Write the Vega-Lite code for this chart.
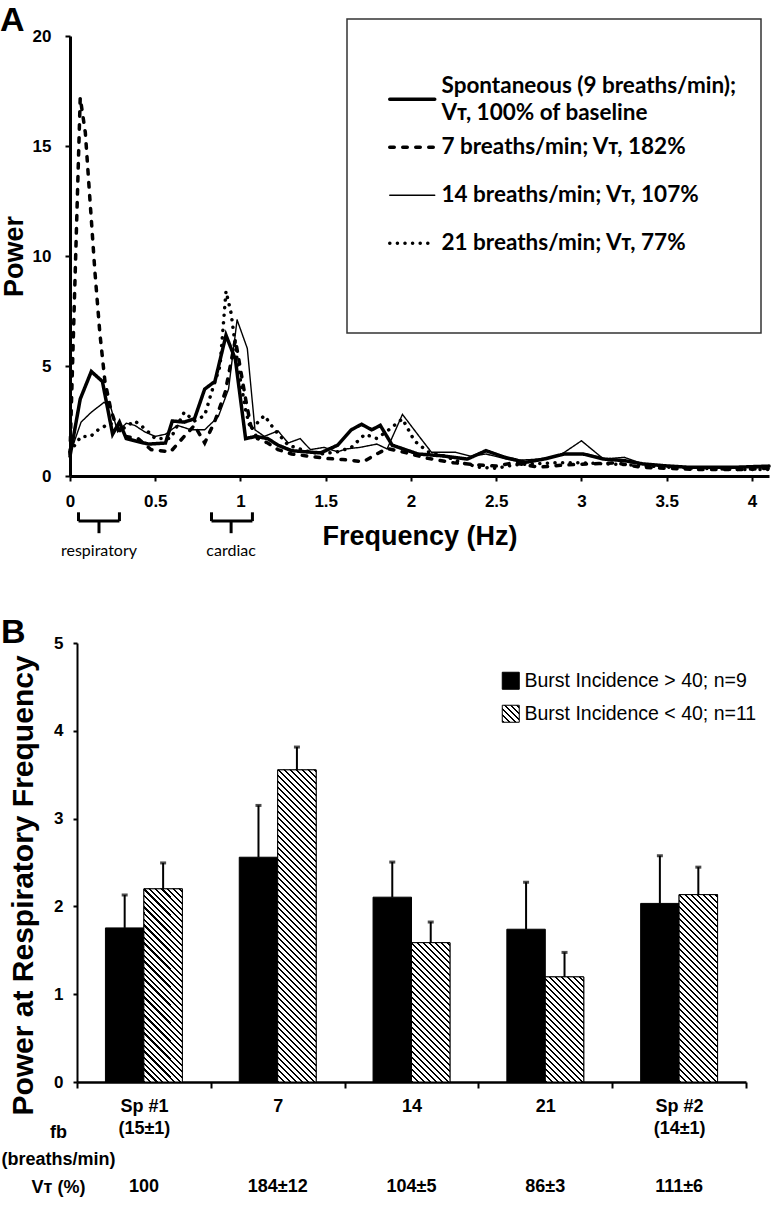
{
"$schema": "https://vega.github.io/schema/vega-lite/v6.json",
"background": "white",
"padding": {"top": 4, "left": 0, "right": 0, "bottom": 0},
"spacing": 167,
"bounds": "flush",
"resolve": {"scale": {"fill": "independent", "strokeDash": "independent"}, "legend": {"fill": "independent", "strokeDash": "independent"}},
"params": [{"name": "hatch", "value": [
{"offset":0,"color":"#000"},{"offset":0.00583,"color":"#000"},{"offset":0.00583,"color":"#fff"},{"offset":0.01667,"color":"#fff"},
{"offset":0.01667,"color":"#000"},{"offset":0.0225,"color":"#000"},{"offset":0.0225,"color":"#fff"},{"offset":0.03333,"color":"#fff"},
{"offset":0.03333,"color":"#000"},{"offset":0.03917,"color":"#000"},{"offset":0.03917,"color":"#fff"},{"offset":0.05,"color":"#fff"},
{"offset":0.05,"color":"#000"},{"offset":0.05583,"color":"#000"},{"offset":0.05583,"color":"#fff"},{"offset":0.06667,"color":"#fff"},
{"offset":0.06667,"color":"#000"},{"offset":0.0725,"color":"#000"},{"offset":0.0725,"color":"#fff"},{"offset":0.08333,"color":"#fff"},
{"offset":0.08333,"color":"#000"},{"offset":0.08917,"color":"#000"},{"offset":0.08917,"color":"#fff"},{"offset":0.1,"color":"#fff"},
{"offset":0.1,"color":"#000"},{"offset":0.10583,"color":"#000"},{"offset":0.10583,"color":"#fff"},{"offset":0.11667,"color":"#fff"},
{"offset":0.11667,"color":"#000"},{"offset":0.1225,"color":"#000"},{"offset":0.1225,"color":"#fff"},{"offset":0.13333,"color":"#fff"},
{"offset":0.13333,"color":"#000"},{"offset":0.13917,"color":"#000"},{"offset":0.13917,"color":"#fff"},{"offset":0.15,"color":"#fff"},
{"offset":0.15,"color":"#000"},{"offset":0.15583,"color":"#000"},{"offset":0.15583,"color":"#fff"},{"offset":0.16667,"color":"#fff"},
{"offset":0.16667,"color":"#000"},{"offset":0.1725,"color":"#000"},{"offset":0.1725,"color":"#fff"},{"offset":0.18333,"color":"#fff"},
{"offset":0.18333,"color":"#000"},{"offset":0.18917,"color":"#000"},{"offset":0.18917,"color":"#fff"},{"offset":0.2,"color":"#fff"},
{"offset":0.2,"color":"#000"},{"offset":0.20583,"color":"#000"},{"offset":0.20583,"color":"#fff"},{"offset":0.21667,"color":"#fff"},
{"offset":0.21667,"color":"#000"},{"offset":0.2225,"color":"#000"},{"offset":0.2225,"color":"#fff"},{"offset":0.23333,"color":"#fff"},
{"offset":0.23333,"color":"#000"},{"offset":0.23917,"color":"#000"},{"offset":0.23917,"color":"#fff"},{"offset":0.25,"color":"#fff"},
{"offset":0.25,"color":"#000"},{"offset":0.25583,"color":"#000"},{"offset":0.25583,"color":"#fff"},{"offset":0.26667,"color":"#fff"},
{"offset":0.26667,"color":"#000"},{"offset":0.2725,"color":"#000"},{"offset":0.2725,"color":"#fff"},{"offset":0.28333,"color":"#fff"},
{"offset":0.28333,"color":"#000"},{"offset":0.28917,"color":"#000"},{"offset":0.28917,"color":"#fff"},{"offset":0.3,"color":"#fff"},
{"offset":0.3,"color":"#000"},{"offset":0.30583,"color":"#000"},{"offset":0.30583,"color":"#fff"},{"offset":0.31667,"color":"#fff"},
{"offset":0.31667,"color":"#000"},{"offset":0.3225,"color":"#000"},{"offset":0.3225,"color":"#fff"},{"offset":0.33333,"color":"#fff"},
{"offset":0.33333,"color":"#000"},{"offset":0.33917,"color":"#000"},{"offset":0.33917,"color":"#fff"},{"offset":0.35,"color":"#fff"},
{"offset":0.35,"color":"#000"},{"offset":0.35583,"color":"#000"},{"offset":0.35583,"color":"#fff"},{"offset":0.36667,"color":"#fff"},
{"offset":0.36667,"color":"#000"},{"offset":0.3725,"color":"#000"},{"offset":0.3725,"color":"#fff"},{"offset":0.38333,"color":"#fff"},
{"offset":0.38333,"color":"#000"},{"offset":0.38917,"color":"#000"},{"offset":0.38917,"color":"#fff"},{"offset":0.4,"color":"#fff"},
{"offset":0.4,"color":"#000"},{"offset":0.40583,"color":"#000"},{"offset":0.40583,"color":"#fff"},{"offset":0.41667,"color":"#fff"},
{"offset":0.41667,"color":"#000"},{"offset":0.4225,"color":"#000"},{"offset":0.4225,"color":"#fff"},{"offset":0.43333,"color":"#fff"},
{"offset":0.43333,"color":"#000"},{"offset":0.43917,"color":"#000"},{"offset":0.43917,"color":"#fff"},{"offset":0.45,"color":"#fff"},
{"offset":0.45,"color":"#000"},{"offset":0.45583,"color":"#000"},{"offset":0.45583,"color":"#fff"},{"offset":0.46667,"color":"#fff"},
{"offset":0.46667,"color":"#000"},{"offset":0.4725,"color":"#000"},{"offset":0.4725,"color":"#fff"},{"offset":0.48333,"color":"#fff"},
{"offset":0.48333,"color":"#000"},{"offset":0.48917,"color":"#000"},{"offset":0.48917,"color":"#fff"},{"offset":0.5,"color":"#fff"},
{"offset":0.5,"color":"#000"},{"offset":0.50583,"color":"#000"},{"offset":0.50583,"color":"#fff"},{"offset":0.51667,"color":"#fff"},
{"offset":0.51667,"color":"#000"},{"offset":0.5225,"color":"#000"},{"offset":0.5225,"color":"#fff"},{"offset":0.53333,"color":"#fff"},
{"offset":0.53333,"color":"#000"},{"offset":0.53917,"color":"#000"},{"offset":0.53917,"color":"#fff"},{"offset":0.55,"color":"#fff"},
{"offset":0.55,"color":"#000"},{"offset":0.55583,"color":"#000"},{"offset":0.55583,"color":"#fff"},{"offset":0.56667,"color":"#fff"},
{"offset":0.56667,"color":"#000"},{"offset":0.5725,"color":"#000"},{"offset":0.5725,"color":"#fff"},{"offset":0.58333,"color":"#fff"},
{"offset":0.58333,"color":"#000"},{"offset":0.58917,"color":"#000"},{"offset":0.58917,"color":"#fff"},{"offset":0.6,"color":"#fff"},
{"offset":0.6,"color":"#000"},{"offset":0.60583,"color":"#000"},{"offset":0.60583,"color":"#fff"},{"offset":0.61667,"color":"#fff"},
{"offset":0.61667,"color":"#000"},{"offset":0.6225,"color":"#000"},{"offset":0.6225,"color":"#fff"},{"offset":0.63333,"color":"#fff"},
{"offset":0.63333,"color":"#000"},{"offset":0.63917,"color":"#000"},{"offset":0.63917,"color":"#fff"},{"offset":0.65,"color":"#fff"},
{"offset":0.65,"color":"#000"},{"offset":0.65583,"color":"#000"},{"offset":0.65583,"color":"#fff"},{"offset":0.66667,"color":"#fff"},
{"offset":0.66667,"color":"#000"},{"offset":0.6725,"color":"#000"},{"offset":0.6725,"color":"#fff"},{"offset":0.68333,"color":"#fff"},
{"offset":0.68333,"color":"#000"},{"offset":0.68917,"color":"#000"},{"offset":0.68917,"color":"#fff"},{"offset":0.7,"color":"#fff"},
{"offset":0.7,"color":"#000"},{"offset":0.70583,"color":"#000"},{"offset":0.70583,"color":"#fff"},{"offset":0.71667,"color":"#fff"},
{"offset":0.71667,"color":"#000"},{"offset":0.7225,"color":"#000"},{"offset":0.7225,"color":"#fff"},{"offset":0.73333,"color":"#fff"},
{"offset":0.73333,"color":"#000"},{"offset":0.73917,"color":"#000"},{"offset":0.73917,"color":"#fff"},{"offset":0.75,"color":"#fff"},
{"offset":0.75,"color":"#000"},{"offset":0.75583,"color":"#000"},{"offset":0.75583,"color":"#fff"},{"offset":0.76667,"color":"#fff"},
{"offset":0.76667,"color":"#000"},{"offset":0.7725,"color":"#000"},{"offset":0.7725,"color":"#fff"},{"offset":0.78333,"color":"#fff"},
{"offset":0.78333,"color":"#000"},{"offset":0.78917,"color":"#000"},{"offset":0.78917,"color":"#fff"},{"offset":0.8,"color":"#fff"},
{"offset":0.8,"color":"#000"},{"offset":0.80583,"color":"#000"},{"offset":0.80583,"color":"#fff"},{"offset":0.81667,"color":"#fff"},
{"offset":0.81667,"color":"#000"},{"offset":0.8225,"color":"#000"},{"offset":0.8225,"color":"#fff"},{"offset":0.83333,"color":"#fff"},
{"offset":0.83333,"color":"#000"},{"offset":0.83917,"color":"#000"},{"offset":0.83917,"color":"#fff"},{"offset":0.85,"color":"#fff"},
{"offset":0.85,"color":"#000"},{"offset":0.85583,"color":"#000"},{"offset":0.85583,"color":"#fff"},{"offset":0.86667,"color":"#fff"},
{"offset":0.86667,"color":"#000"},{"offset":0.8725,"color":"#000"},{"offset":0.8725,"color":"#fff"},{"offset":0.88333,"color":"#fff"},
{"offset":0.88333,"color":"#000"},{"offset":0.88917,"color":"#000"},{"offset":0.88917,"color":"#fff"},{"offset":0.9,"color":"#fff"},
{"offset":0.9,"color":"#000"},{"offset":0.90583,"color":"#000"},{"offset":0.90583,"color":"#fff"},{"offset":0.91667,"color":"#fff"},
{"offset":0.91667,"color":"#000"},{"offset":0.9225,"color":"#000"},{"offset":0.9225,"color":"#fff"},{"offset":0.93333,"color":"#fff"},
{"offset":0.93333,"color":"#000"},{"offset":0.93917,"color":"#000"},{"offset":0.93917,"color":"#fff"},{"offset":0.95,"color":"#fff"},
{"offset":0.95,"color":"#000"},{"offset":0.95583,"color":"#000"},{"offset":0.95583,"color":"#fff"},{"offset":0.96667,"color":"#fff"},
{"offset":0.96667,"color":"#000"},{"offset":0.9725,"color":"#000"},{"offset":0.9725,"color":"#fff"},{"offset":0.98333,"color":"#fff"},
{"offset":0.98333,"color":"#000"},{"offset":0.98917,"color":"#000"},{"offset":0.98917,"color":"#fff"},{"offset":1,"color":"#fff"}
]}],
"datasets": {
"spectra": [
{"series":"Spontaneous","freq":0,"power":0.9},{"series":"Spontaneous","freq":0.06,"power":3.5},{"series":"Spontaneous","freq":0.125,"power":4.75},{"series":"Spontaneous","freq":0.19,"power":4.3},{"series":"Spontaneous","freq":0.25,"power":1.9},{"series":"Spontaneous","freq":0.29,"power":2.45},{"series":"Spontaneous","freq":0.33,"power":1.7},{"series":"Spontaneous","freq":0.38,"power":1.6},{"series":"Spontaneous","freq":0.46,"power":1.45},{"series":"Spontaneous","freq":0.56,"power":1.5},{"series":"Spontaneous","freq":0.6,"power":2.5},{"series":"Spontaneous","freq":0.67,"power":2.45},{"series":"Spontaneous","freq":0.73,"power":2.6},{"series":"Spontaneous","freq":0.79,"power":3.95},{"series":"Spontaneous","freq":0.85,"power":4.3},{"series":"Spontaneous","freq":0.915,"power":6.4},{"series":"Spontaneous","freq":0.97,"power":5.3},{"series":"Spontaneous","freq":1.03,"power":1.7},{"series":"Spontaneous","freq":1.09,"power":1.8},{"series":"Spontaneous","freq":1.16,"power":1.7},{"series":"Spontaneous","freq":1.22,"power":1.4},{"series":"Spontaneous","freq":1.3,"power":1.15},{"series":"Spontaneous","freq":1.38,"power":1.1},{"series":"Spontaneous","freq":1.47,"power":1.05},{"series":"Spontaneous","freq":1.57,"power":1.4},{"series":"Spontaneous","freq":1.65,"power":2.1},{"series":"Spontaneous","freq":1.71,"power":2.35},{"series":"Spontaneous","freq":1.77,"power":2.1},{"series":"Spontaneous","freq":1.82,"power":2.3},{"series":"Spontaneous","freq":1.89,"power":1.4},{"series":"Spontaneous","freq":2.04,"power":1.0},{"series":"Spontaneous","freq":2.18,"power":0.92},{"series":"Spontaneous","freq":2.33,"power":0.77},{"series":"Spontaneous","freq":2.44,"power":1.15},{"series":"Spontaneous","freq":2.55,"power":0.85},{"series":"Spontaneous","freq":2.67,"power":0.62},{"series":"Spontaneous","freq":2.78,"power":0.77},{"series":"Spontaneous","freq":2.9,"power":1.0},{"series":"Spontaneous","freq":3.01,"power":1.0},{"series":"Spontaneous","freq":3.13,"power":0.77},{"series":"Spontaneous","freq":3.25,"power":0.7},{"series":"Spontaneous","freq":3.36,"power":0.55},{"series":"Spontaneous","freq":3.48,"power":0.47},{"series":"Spontaneous","freq":3.62,"power":0.4},{"series":"Spontaneous","freq":3.77,"power":0.4},{"series":"Spontaneous","freq":3.91,"power":0.4},{"series":"Spontaneous","freq":4.1,"power":0.45},
{"series":"7 breaths/min","freq":0,"power":1.0},{"series":"7 breaths/min","freq":0.06,"power":17.2},{"series":"7 breaths/min","freq":0.09,"power":15.6},{"series":"7 breaths/min","freq":0.146,"power":9.3},{"series":"7 breaths/min","freq":0.175,"power":6.5},{"series":"7 breaths/min","freq":0.205,"power":4.3},{"series":"7 breaths/min","freq":0.24,"power":3.0},{"series":"7 breaths/min","freq":0.27,"power":2.3},{"series":"7 breaths/min","freq":0.32,"power":1.8},{"series":"7 breaths/min","freq":0.4,"power":1.7},{"series":"7 breaths/min","freq":0.475,"power":1.2},{"series":"7 breaths/min","freq":0.59,"power":1.1},{"series":"7 breaths/min","freq":0.67,"power":1.8},{"series":"7 breaths/min","freq":0.73,"power":2.3},{"series":"7 breaths/min","freq":0.79,"power":1.5},{"series":"7 breaths/min","freq":0.85,"power":2.5},{"series":"7 breaths/min","freq":0.91,"power":3.8},{"series":"7 breaths/min","freq":0.94,"power":5.0},{"series":"7 breaths/min","freq":0.97,"power":6.2},{"series":"7 breaths/min","freq":1.03,"power":3.5},{"series":"7 breaths/min","freq":1.06,"power":2.3},{"series":"7 breaths/min","freq":1.1,"power":1.7},{"series":"7 breaths/min","freq":1.16,"power":1.5},{"series":"7 breaths/min","freq":1.22,"power":1.2},{"series":"7 breaths/min","freq":1.3,"power":1.0},{"series":"7 breaths/min","freq":1.4,"power":0.9},{"series":"7 breaths/min","freq":1.5,"power":0.8},{"series":"7 breaths/min","freq":1.6,"power":0.75},{"series":"7 breaths/min","freq":1.72,"power":0.65},{"series":"7 breaths/min","freq":1.8,"power":1.0},{"series":"7 breaths/min","freq":1.86,"power":1.25},{"series":"7 breaths/min","freq":1.92,"power":1.15},{"series":"7 breaths/min","freq":2.0,"power":1.0},{"series":"7 breaths/min","freq":2.1,"power":0.8},{"series":"7 breaths/min","freq":2.25,"power":0.6},{"series":"7 breaths/min","freq":2.4,"power":0.5},{"series":"7 breaths/min","freq":2.5,"power":0.45},{"series":"7 breaths/min","freq":2.6,"power":0.6},{"series":"7 breaths/min","freq":2.75,"power":0.4},{"series":"7 breaths/min","freq":2.9,"power":0.5},{"series":"7 breaths/min","freq":3.05,"power":0.55},{"series":"7 breaths/min","freq":3.2,"power":0.6},{"series":"7 breaths/min","freq":3.35,"power":0.4},{"series":"7 breaths/min","freq":3.5,"power":0.35},{"series":"7 breaths/min","freq":3.65,"power":0.3},{"series":"7 breaths/min","freq":3.8,"power":0.3},{"series":"7 breaths/min","freq":3.95,"power":0.3},{"series":"7 breaths/min","freq":4.1,"power":0.35},
{"series":"14 breaths/min","freq":0,"power":1.0},{"series":"14 breaths/min","freq":0.065,"power":2.45},{"series":"14 breaths/min","freq":0.125,"power":2.9},{"series":"14 breaths/min","freq":0.2,"power":3.35},{"series":"14 breaths/min","freq":0.24,"power":3.1},{"series":"14 breaths/min","freq":0.28,"power":2.0},{"series":"14 breaths/min","freq":0.33,"power":2.4},{"series":"14 breaths/min","freq":0.38,"power":2.3},{"series":"14 breaths/min","freq":0.44,"power":2.0},{"series":"14 breaths/min","freq":0.5,"power":1.8},{"series":"14 breaths/min","freq":0.56,"power":1.9},{"series":"14 breaths/min","freq":0.63,"power":2.3},{"series":"14 breaths/min","freq":0.71,"power":2.1},{"series":"14 breaths/min","freq":0.79,"power":2.1},{"series":"14 breaths/min","freq":0.87,"power":2.7},{"series":"14 breaths/min","freq":0.93,"power":3.95},{"series":"14 breaths/min","freq":0.98,"power":7.1},{"series":"14 breaths/min","freq":1.04,"power":5.8},{"series":"14 breaths/min","freq":1.085,"power":2.1},{"series":"14 breaths/min","freq":1.14,"power":1.8},{"series":"14 breaths/min","freq":1.22,"power":2.05},{"series":"14 breaths/min","freq":1.28,"power":1.5},{"series":"14 breaths/min","freq":1.35,"power":1.7},{"series":"14 breaths/min","freq":1.41,"power":1.2},{"series":"14 breaths/min","freq":1.49,"power":1.3},{"series":"14 breaths/min","freq":1.57,"power":1.1},{"series":"14 breaths/min","freq":1.62,"power":1.23},{"series":"14 breaths/min","freq":1.7,"power":1.3},{"series":"14 breaths/min","freq":1.8,"power":1.45},{"series":"14 breaths/min","freq":1.86,"power":1.23},{"series":"14 breaths/min","freq":1.95,"power":2.8},{"series":"14 breaths/min","freq":2.06,"power":1.68},{"series":"14 breaths/min","freq":2.12,"power":1.08},{"series":"14 breaths/min","freq":2.26,"power":1.08},{"series":"14 breaths/min","freq":2.35,"power":0.9},{"series":"14 breaths/min","freq":2.44,"power":1.0},{"series":"14 breaths/min","freq":2.6,"power":0.7},{"series":"14 breaths/min","freq":2.75,"power":0.77},{"series":"14 breaths/min","freq":2.87,"power":0.92},{"series":"14 breaths/min","freq":3.0,"power":1.6},{"series":"14 breaths/min","freq":3.13,"power":0.77},{"series":"14 breaths/min","freq":3.25,"power":0.85},{"series":"14 breaths/min","freq":3.36,"power":0.55},{"series":"14 breaths/min","freq":3.5,"power":0.45},{"series":"14 breaths/min","freq":3.65,"power":0.4},{"series":"14 breaths/min","freq":3.8,"power":0.4},{"series":"14 breaths/min","freq":3.95,"power":0.4},{"series":"14 breaths/min","freq":4.1,"power":0.35},
{"series":"21 breaths/min","freq":0,"power":1.1},{"series":"21 breaths/min","freq":0.065,"power":1.8},{"series":"21 breaths/min","freq":0.12,"power":1.8},{"series":"21 breaths/min","freq":0.165,"power":2.1},{"series":"21 breaths/min","freq":0.235,"power":2.4},{"series":"21 breaths/min","freq":0.3,"power":2.1},{"series":"21 breaths/min","freq":0.38,"power":2.5},{"series":"21 breaths/min","freq":0.44,"power":2.15},{"series":"21 breaths/min","freq":0.5,"power":1.7},{"series":"21 breaths/min","freq":0.59,"power":1.7},{"series":"21 breaths/min","freq":0.67,"power":2.9},{"series":"21 breaths/min","freq":0.73,"power":2.5},{"series":"21 breaths/min","freq":0.79,"power":2.75},{"series":"21 breaths/min","freq":0.83,"power":3.8},{"series":"21 breaths/min","freq":0.88,"power":5.0},{"series":"21 breaths/min","freq":0.915,"power":8.4},{"series":"21 breaths/min","freq":0.945,"power":7.4},{"series":"21 breaths/min","freq":0.985,"power":5.0},{"series":"21 breaths/min","freq":1.03,"power":3.0},{"series":"21 breaths/min","freq":1.06,"power":2.1},{"series":"21 breaths/min","freq":1.14,"power":2.75},{"series":"21 breaths/min","freq":1.2,"power":2.1},{"series":"21 breaths/min","freq":1.28,"power":1.4},{"series":"21 breaths/min","freq":1.38,"power":1.15},{"series":"21 breaths/min","freq":1.47,"power":1.0},{"series":"21 breaths/min","freq":1.57,"power":1.1},{"series":"21 breaths/min","freq":1.65,"power":1.3},{"series":"21 breaths/min","freq":1.73,"power":1.9},{"series":"21 breaths/min","freq":1.8,"power":1.7},{"series":"21 breaths/min","freq":1.87,"power":2.1},{"series":"21 breaths/min","freq":1.95,"power":2.6},{"series":"21 breaths/min","freq":2.02,"power":1.6},{"series":"21 breaths/min","freq":2.1,"power":1.1},{"series":"21 breaths/min","freq":2.2,"power":0.9},{"series":"21 breaths/min","freq":2.3,"power":0.6},{"series":"21 breaths/min","freq":2.4,"power":0.4},{"series":"21 breaths/min","freq":2.5,"power":0.35},{"series":"21 breaths/min","freq":2.6,"power":0.5},{"series":"21 breaths/min","freq":2.7,"power":0.55},{"series":"21 breaths/min","freq":2.85,"power":0.6},{"series":"21 breaths/min","freq":3.0,"power":0.6},{"series":"21 breaths/min","freq":3.15,"power":0.55},{"series":"21 breaths/min","freq":3.3,"power":0.5},{"series":"21 breaths/min","freq":3.5,"power":0.4},{"series":"21 breaths/min","freq":3.7,"power":0.35},{"series":"21 breaths/min","freq":3.9,"power":0.3},{"series":"21 breaths/min","freq":4.1,"power":0.3}
],
"bands": [
{"region":"respiratory","lo":0.05,"hi":0.29,"mid":0.17},
{"region":"cardiac","lo":0.83,"hi":1.07,"mid":0.945}
],
"bars": [
{"cond":"Sp #1","group":"Burst Incidence > 40; n=9","mean":1.755,"upper":2.13},
{"cond":"Sp #1","group":"Burst Incidence < 40; n=11","mean":2.2,"upper":2.495},
{"cond":"7","group":"Burst Incidence > 40; n=9","mean":2.56,"upper":3.15},
{"cond":"7","group":"Burst Incidence < 40; n=11","mean":3.555,"upper":3.815},
{"cond":"14","group":"Burst Incidence > 40; n=9","mean":2.105,"upper":2.505},
{"cond":"14","group":"Burst Incidence < 40; n=11","mean":1.587,"upper":1.822},
{"cond":"21","group":"Burst Incidence > 40; n=9","mean":1.74,"upper":2.275},
{"cond":"21","group":"Burst Incidence < 40; n=11","mean":1.197,"upper":1.476},
{"cond":"Sp #2","group":"Burst Incidence > 40; n=9","mean":2.034,"upper":2.577},
{"cond":"Sp #2","group":"Burst Incidence < 40; n=11","mean":2.134,"upper":2.447}
],
"vt": [
{"cond":"Sp #1","vt":"100"},
{"cond":"7","vt":"184±12"},
{"cond":"14","vt":"104±5"},
{"cond":"21","vt":"86±3"},
{"cond":"Sp #2","vt":"111±6"}
]
},
"config": {
"view": {"stroke": null},
"axis": {"labelFont": "Liberation Sans", "titleFont": "Liberation Sans", "labelColor": "black", "titleColor": "black", "domainColor": "black", "tickColor": "black", "grid": false},
"legend": {"labelColor": "black", "titleColor": "black"}
},
"vconcat": [
{
"width": 699, "height": 440,
"title": {"text": "A", "anchor": "start", "frame": "bounds", "fontSize": 34, "fontWeight": "bold", "font": "Liberation Sans", "offset": 0, "dy": 20, "color": "black"},
"layer": [
{"data": {"name": "spectra"},
"mark": {"type": "line", "strokeCap": "round", "color": "black"},
"encoding": {
"x": {"field": "freq", "type": "quantitative", "scale": {"domain": [0, 4.1], "nice": false, "zero": false},
"axis": {"values": [0, 0.5, 1, 1.5, 2, 2.5, 3, 3.5, 4], "format": "~g", "title": "Frequency (Hz)", "titleFontSize": 27, "titleFontWeight": "bold", "titlePadding": 14, "labelFontSize": 17, "labelFontWeight": "bold", "labelPadding": 12, "tickSize": 5, "tickWidth": 2, "domainWidth": 3, "labelFlush": false, "labelOverlap": false}},
"y": {"field": "power", "type": "quantitative", "scale": {"domain": [0, 20], "nice": false},
"axis": {"values": [0, 5, 10, 15, 20], "title": "Power", "titleX": -48, "titleBaseline": "alphabetic", "titleFontSize": 27, "titleFontWeight": "bold", "labelFontSize": 17, "labelFontWeight": "bold", "labelPadding": 14, "tickSize": 5, "tickWidth": 2, "domainWidth": 3}},
"strokeDash": {"field": "series", "type": "nominal",
"scale": {"domain": ["Spontaneous", "7 breaths/min", "14 breaths/min", "21 breaths/min"], "range": [[1, 0], [4.5, 8.5], [1, 0], [0.1, 7.5]]},
"legend": {"title": "\u200b", "titleFontSize": 10, "titlePadding": 35, "orient": "none", "legendX": 277, "legendY": -17, "padding": 24, "strokeColor": "#333", "fillColor": "white", "symbolType": "stroke", "symbolSize": 2025, "symbolOffset": 30, "symbolStrokeColor": "black", "labelFont": "Lato, DejaVu Sans", "labelFontSize": 22.5, "labelFontWeight": "bold", "labelOffset": 18, "labelLimit": 600, "rowPadding": -3,
"labelExpr": "datum.value === 'Spontaneous' ? ['Spontaneous (9 breaths/min);', '\u200b', 'Vᴛ, 100% of baseline'] : datum.value === '7 breaths/min' ? ['\u200b', '7 breaths/min; Vᴛ, 182%', '\u200b'] : datum.value === '14 breaths/min' ? ['\u200b', '14 breaths/min; Vᴛ, 107%', '\u200b'] : ['\u200b', '21 breaths/min; Vᴛ, 77%', '\u200b', '\u200b', '\u200b', '\u200b']",
"encode": {"legend": {"update": {"strokeWidth": {"value": 1.5}}}, "labels": {"update": {"lineHeight": {"value": 13.5}, "dy": {"value": -13.5}}}, "symbols": {"update": {"strokeCap": {"value": "round"}, "strokeWidth": {"signal": "datum.value === '14 breaths/min' ? 1.4 : 3.5"}}}}}},
"strokeWidth": {"condition": {"test": "datum.series === '14 breaths/min'", "value": 1.4}, "value": 3.5}
}},
{"data": {"name": "bands"}, "mark": {"type": "rule", "strokeWidth": 3, "color": "black"},
"encoding": {"x": {"field": "lo", "type": "quantitative"}, "x2": {"field": "hi"}, "y": {"datum": -2.05}}},
{"data": {"name": "bands"}, "mark": {"type": "rule", "strokeWidth": 3, "color": "black"},
"encoding": {"x": {"field": "lo", "type": "quantitative"}, "y": {"datum": -1.65}, "y2": {"datum": -2.05}}},
{"data": {"name": "bands"}, "mark": {"type": "rule", "strokeWidth": 3, "color": "black"},
"encoding": {"x": {"field": "hi", "type": "quantitative"}, "y": {"datum": -1.65}, "y2": {"datum": -2.05}}},
{"data": {"name": "bands"}, "mark": {"type": "rule", "strokeWidth": 3, "color": "black"},
"encoding": {"x": {"field": "mid", "type": "quantitative"}, "y": {"datum": -2.05}, "y2": {"datum": -2.6}}},
{"data": {"name": "bands"}, "mark": {"type": "text", "font": "Lato, DejaVu Sans", "fontSize": 16, "color": "black", "baseline": "middle", "align": "center"},
"encoding": {"x": {"field": "mid", "type": "quantitative"}, "y": {"datum": -3.4}, "text": {"field": "region"}}}
]
},
{
"width": 676, "height": 439,
"title": {"text": "B", "anchor": "start", "frame": "bounds", "fontSize": 34, "fontWeight": "bold", "font": "Liberation Sans", "offset": 0, "dy": 16, "color": "black"},
"data": {"name": "bars"},
"layer": [
{"mark": {"type": "bar", "stroke": "black", "strokeWidth": 1},
"encoding": {
"x": {"field": "cond", "type": "nominal", "scale": {"domain": ["Sp #1", "7", "14", "21", "Sp #2"], "range": [7, 676], "paddingInner": 0, "paddingOuter": 0},
"axis": {"title": ["fb", "(breaths/min)", "Vᴛ (%)"], "titleX": -12, "titleY": 50, "titleAlign": "center", "titleBaseline": "middle", "titleAngle": 0, "titleFontSize": 18, "titleFontWeight": "bold", "titleLineHeight": 27.5,
"labelExpr": "datum.value === 'Sp #1' ? ['Sp #1', '(15±1)'] : datum.value === 'Sp #2' ? ['Sp #2', '(14±1)'] : datum.value ? datum.label : ''",
"labelFontSize": 18, "labelFontWeight": "bold", "labelBaseline": "top", "labelLineHeight": 22, "labelPadding": 9, "labelAngle": 0, "tickBand": "extent", "tickSize": 6, "tickWidth": 2, "domainWidth": 2.5, "labelOverlap": false, "labelBound": false}},
"xOffset": {"field": "group", "type": "nominal", "scale": {"domain": ["Burst Incidence > 40; n=9", "Burst Incidence < 40; n=11"], "paddingInner": 0, "paddingOuter": 0.74}},
"y": {"field": "mean", "type": "quantitative", "scale": {"domain": [0, 5], "nice": false},
"axis": {"values": [0, 1, 2, 3, 4, 5], "format": "d", "offset": -7, "title": "Power at Respiratory Frequency", "titleX": -45, "titleY": 242, "titleBaseline": "alphabetic", "titleFontSize": 30, "titleFontWeight": "bold", "labelFontSize": 17, "labelFontWeight": "bold", "labelPadding": 10, "tickSize": 4, "tickWidth": 2, "domainWidth": 2}},
"fill": {"field": "group", "type": "nominal", "scale": {"domain": ["Burst Incidence > 40; n=9", "Burst Incidence < 40; n=11"], "range": ["black", {"expr": "{gradient: 'linear', x1: 0, y1: 1, x2: 10.59, y2: -9.59, stops: hatch}"}]},
"legend": {"title": null, "orient": "none", "legendX": 431, "legendY": 28, "symbolType": "square", "symbolSize": 289, "symbolStrokeColor": "black", "symbolStrokeWidth": 1, "labelFont": "Liberation Sans", "labelFontSize": 19.5, "labelOffset": 4, "labelLimit": 400, "rowPadding": 11, "padding": 0}}
}},
{"transform": [{"filter": "datum.group === 'Burst Incidence < 40; n=11'"}],
"mark": {"type": "bar", "stroke": "black", "strokeWidth": 1,
"fill": {"expr": "{gradient: 'linear', x1: 0, y1: 1, x2: (38.45/(datum.mean*87.8))*((38.45/(datum.mean*87.8))+1)/((pow(38.45/(datum.mean*87.8),2)+1)*(38.45+datum.mean*87.8)/360), y2: 1-((38.45/(datum.mean*87.8))+1)/((pow(38.45/(datum.mean*87.8),2)+1)*(38.45+datum.mean*87.8)/360), stops: hatch}"}},
"encoding": {"x": {"field": "cond", "type": "nominal"}, "xOffset": {"field": "group", "type": "nominal"}, "y": {"field": "mean", "type": "quantitative"}}},
{"mark": {"type": "rule", "strokeWidth": 2, "color": "black"},
"encoding": {"x": {"field": "cond", "type": "nominal"}, "xOffset": {"field": "group", "type": "nominal"}, "y": {"field": "mean", "type": "quantitative"}, "y2": {"field": "upper"}}},
{"mark": {"type": "tick", "thickness": 3, "size": 6, "color": "black"},
"encoding": {"x": {"field": "cond", "type": "nominal"}, "xOffset": {"field": "group", "type": "nominal"}, "y": {"field": "upper", "type": "quantitative"}}},
{"data": {"name": "vt"},
"mark": {"type": "text", "font": "Liberation Sans", "fontSize": 18, "fontWeight": "bold", "color": "black", "baseline": "middle", "align": "center"},
"encoding": {"x": {"field": "cond", "type": "nominal"}, "y": {"datum": -1.196}, "text": {"field": "vt"}}}
]
}
]
}
